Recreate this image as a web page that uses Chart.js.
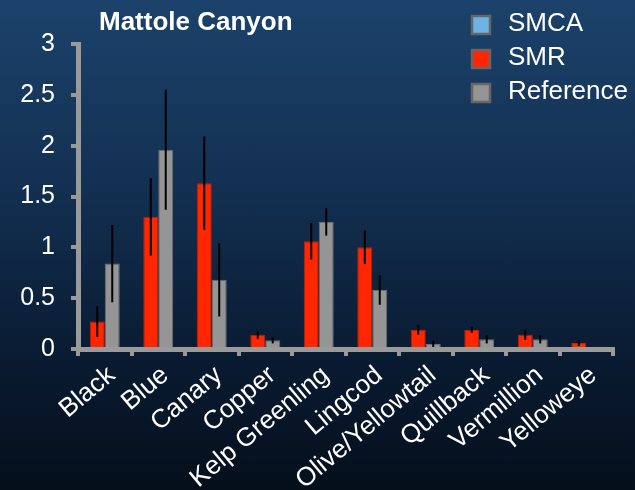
<!DOCTYPE html>
<html>
<head>
<meta charset="utf-8">
<script src="https://cdn.jsdelivr.net/npm/chart.js@4/dist/chart.umd.min.js"></script>
<style>
  html, body { margin: 0; padding: 0; }
  body {
    width: 635px; height: 490px; overflow: hidden;
    background: linear-gradient(to bottom, #1c426b 0%, #122f50 40%, #091a30 75%, #050f1c 100%);
  }
  #wrap { position: relative; width: 635px; height: 490px; }
</style>
</head>
<body>
<div id="wrap"><canvas id="chart"></canvas></div>
<script>
const chartTitle = "Mattole Canyon";
const species = ["Black", "Blue", "Canary", "Copper", "Kelp Greenling", "Lingcod",
  "Olive/Yellowtail", "Quillback", "Vermillion", "Yelloweye"];
const smca = [null, null, null, null, null, null, null, null, null, null];
const smr = [0.27, 1.30, 1.63, 0.14, 1.06, 1.00, 0.19, 0.19, 0.14, 0.06];
const smrErr = [0.15, 0.38, 0.46, 0.04, 0.18, 0.165, 0.05, 0.03, 0.05, 0.03];
const reference = [0.84, 1.96, 0.68, 0.085, 1.25, 0.58, 0.05, 0.095, 0.095, 0];
const referenceErr = [0.38, 0.59, 0.36, 0.03, 0.135, 0.145, 0.03, 0.04, 0.04, 0];
const yTicks = [0, 0.5, 1, 1.5, 2, 2.5, 3];

const FONT = "'Liberation Sans', Arial, sans-serif";
const AXIS = "#9a9a9a";

// error bars drawn from the bar elements and the y scale
const errorBars = {
  id: "errorBars",
  afterDatasetsDraw(chart) {
    const ctx = chart.ctx;
    const y = chart.scales.y;
    ctx.save();
    ctx.strokeStyle = "#000";
    ctx.lineWidth = 2;
    chart.data.datasets.forEach((ds, i) => {
      if (!ds.errors) return;
      const meta = chart.getDatasetMeta(i);
      meta.data.forEach((bar, j) => {
        const v = ds.data[j], e = ds.errors[j];
        if (v == null || !e) return;
        ctx.beginPath();
        ctx.moveTo(bar.x, y.getPixelForValue(v + e));
        ctx.lineTo(bar.x, y.getPixelForValue(Math.max(0, v - e)));
        ctx.stroke();
      });
    });
    ctx.restore();
  }
};

// title + legend in the Excel style, overlapping the plot
const headerLegend = {
  id: "headerLegend",
  afterDraw(chart) {
    const ctx = chart.ctx;
    ctx.save();
    ctx.fillStyle = "#fff";
    ctx.font = "bold 26px " + FONT;
    ctx.textBaseline = "middle";
    ctx.fillText(chartTitle, 99, 23);

    const rows = [25, 59, 93];
    ctx.font = "26px " + FONT;
    chart.data.datasets.forEach((ds, i) => {
      const cy = rows[i];
      ctx.fillStyle = ds.backgroundColor;
      ctx.fillRect(472, cy - 9, 18, 18);
      ctx.strokeStyle = "#666";
      ctx.lineWidth = 2.5;
      ctx.strokeRect(472, cy - 9, 18, 18);
      ctx.fillStyle = "#fff";
      ctx.fillText(ds.label, 508, cy - 1);
    });
    ctx.restore();
  }
};

new Chart(document.getElementById("chart"), {
  type: "bar",
  data: {
    labels: species,
    datasets: [
      { label: "SMCA", data: smca, backgroundColor: "#6cb3e6", borderColor: "#4f7fa6" },
      { label: "SMR", data: smr, errors: smrErr, backgroundColor: "#ff2600", borderColor: "#c22000" },
      { label: "Reference", data: reference, errors: referenceErr, backgroundColor: "#959595", borderColor: "#6f6f6f" }
    ]
  },
  options: {
    responsive: true,
    maintainAspectRatio: false,
    animation: false,
    datasets: {
      bar: { categoryPercentage: 0.56, barPercentage: 1, borderWidth: 1, skipNull: true }
    },
    layout: { padding: { top: 44, right: 22, left: 0, bottom: 0 } },
    plugins: {
      legend: { display: false },
      title: { display: false },
      tooltip: { enabled: false }
    },
    scales: {
      x: {
        grid: { drawOnChartArea: false, drawTicks: true, tickLength: 7, color: AXIS, lineWidth: 4, offset: true },
        border: { color: AXIS, width: 5 },
        ticks: {
          color: "#fff", font: { family: FONT, size: 26 },
          autoSkip: false, minRotation: 40, maxRotation: 40, padding: 4, labelOffset: 7
        },
        afterFit(scale) { scale.height = 141; }
      },
      y: {
        min: 0, max: 3,
        afterBuildTicks(scale) { scale.ticks = yTicks.map(v => ({ value: v })); },
        grid: { drawOnChartArea: false, drawTicks: true, tickLength: 7, color: AXIS, lineWidth: 4 },
        border: { color: AXIS, width: 5 },
        ticks: {
          color: "#fff", font: { family: FONT, size: 25 }, padding: 16,
          callback: v => String(v)
        },
        afterFit(scale) { scale.width = 78; }
      }
    }
  },
  plugins: [errorBars, headerLegend]
});
</script>
</body>
</html>
